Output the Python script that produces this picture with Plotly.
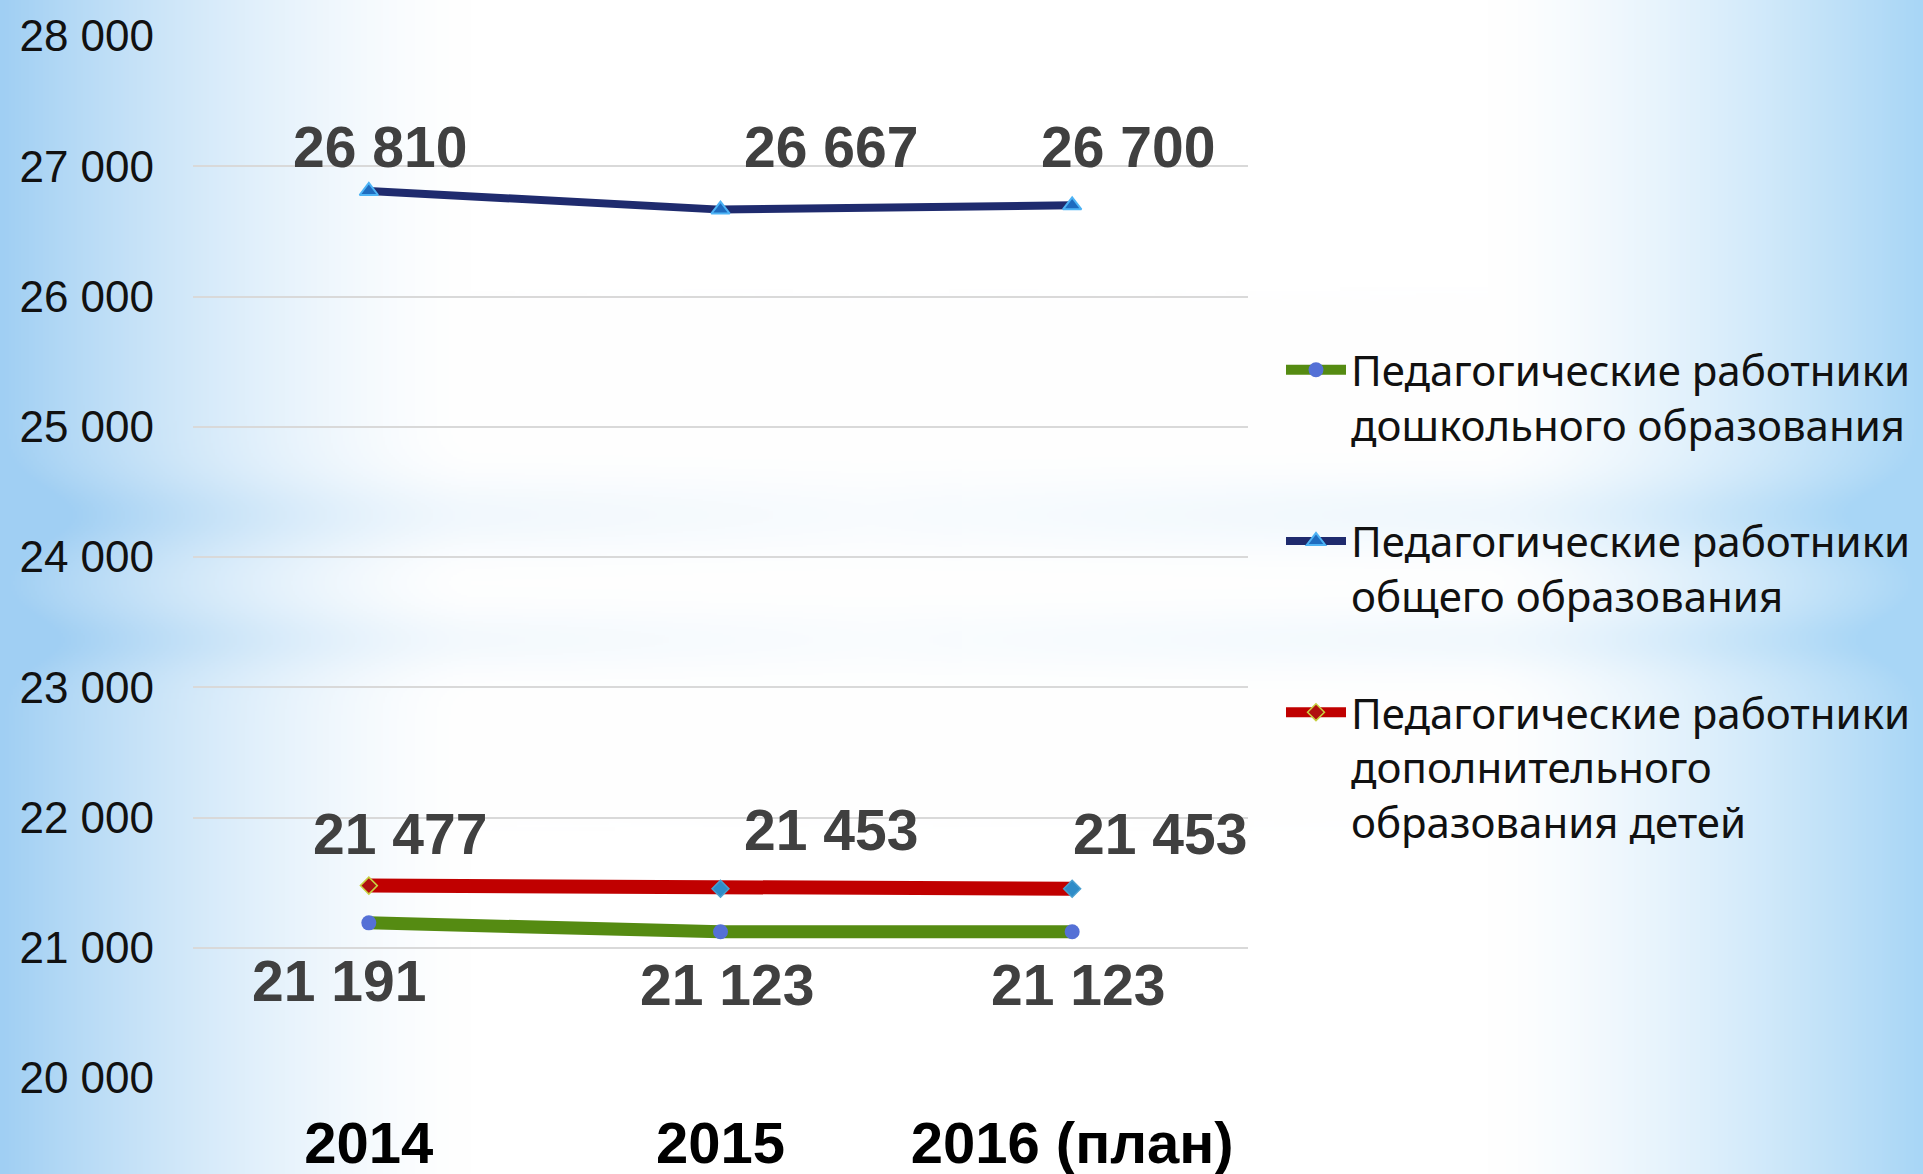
import base64, struct, zlib
import numpy as np
import plotly.graph_objects as go

# ---------------- data ----------------
categories = ["2014", "2015", "2016 (план)"]
preschool = [21191, 21123, 21123]
general = [26810, 26667, 26700]
additional = [21477, 21453, 21453]
series_names = [
    "Педагогические работники<br>дошкольного образования",
    "Педагогические работники<br>общего образования",
    "Педагогические работники<br>дополнительного<br>образования детей",
]
y_ticks = [20000, 21000, 22000, 23000, 24000, 25000, 26000, 27000, 28000]
y_ticktext = ["20 000", "21 000", "22 000", "23 000", "24 000", "25 000", "26 000", "27 000", "28 000"]

W, H = 1923, 1174
L, R, T, B = 193, 675, 36, 96
PW, PH = W - L - R, H - T - B


def fmt(v):
    return f"{v:,}".replace(",", " ")


# ---------------- background gradient image ----------------
def make_bg(w, h):
    xs = np.linspace(0, W, w)[None, :]
    ys = np.linspace(0, H, h)[:, None]
    hl = np.clip(1 - xs / 470.0, 0, 1) ** 1.5
    hr = np.clip((xs - 1490) / 433.0, 0, 1) ** 1.4
    mod = np.clip(0.3 + 0.7 * np.abs(xs - 870) / 870.0, 0, 1)
    band = (0.22 * np.exp(-((ys - 515) / 38.0) ** 2) + 0.18 * np.exp(-((ys - 640) / 32.0) ** 2)) * mod
    f = np.clip(hl + hr + band, 0, 1)
    blue_l = np.array([160, 207, 243], float)
    blue_r = np.array([168, 214, 246], float)
    blue = np.where(xs[..., None] < W / 2, blue_l, blue_r)
    img = 255 * (1 - f[..., None]) + blue * f[..., None]
    return np.clip(img, 0, 255).astype(np.uint8)


def png_bytes(arr):
    h, w, _ = arr.shape
    raw = b"".join(b"\x00" + arr[i].tobytes() for i in range(h))

    def chunk(t, d):
        c = struct.pack(">I", len(d)) + t + d
        return c + struct.pack(">I", zlib.crc32(t + d) & 0xFFFFFFFF)

    return (b"\x89PNG\r\n\x1a\n"
            + chunk(b"IHDR", struct.pack(">IIBBBBB", w, h, 8, 2, 0, 0, 0))
            + chunk(b"IDAT", zlib.compress(raw, 9))
            + chunk(b"IEND", b""))


bg = make_bg(962, 587)
bg_uri = "data:image/png;base64," + base64.b64encode(png_bytes(bg)).decode()

# ---------------- figure ----------------
fig = go.Figure()

fig.add_trace(go.Scatter(
    x=categories, y=preschool, name=series_names[0], mode="lines+markers",
    line=dict(color="#558B12", width=13),
    marker=dict(symbol="circle", size=15, color="#5470D6"),
    legendgroup="a",
))
fig.add_trace(go.Scatter(
    x=categories, y=general, name=series_names[1], mode="lines+markers",
    line=dict(color="#1F2B6E", width=8),
    marker=dict(symbol="triangle-up", size=16, color="#1E6CC0",
                line=dict(color="#4DB3F5", width=2)),
    legendgroup="b",
))
fig.add_trace(go.Scatter(
    x=categories, y=additional, name=series_names[2], mode="lines+markers",
    line=dict(color="#C00000", width=14),
    marker=dict(symbol="diamond", size=13, color=["#B01010", "#2E8CC8", "#2E8CC8"],
                line=dict(color=["#C8D040", "#4AA0D0", "#4AA0D0"], width=1.5)),
    legendgroup="c",
))

# data labels
label_font = dict(family="Liberation Sans, Arial, sans-serif", size=57, color="#404040")
label_specs = [
    (general, [(11, 44), (110, 63), (56, 58)]),
    (additional, [(31, 52), (110, 59), (88, 55)]),
    (preschool, [(-30, -58), (6, -53), (6, -53)]),
]
for vals, shifts in label_specs:
    for i, v in enumerate(vals):
        dx, dy = shifts[i]
        fig.add_annotation(
            x=i, y=v, xref="x", yref="y", text="<b>" + fmt(v) + "</b>",
            showarrow=False, xshift=dx, yshift=dy, font=label_font,
            xanchor="center", yanchor="middle",
        )

fig.add_layout_image(dict(
    source=bg_uri, xref="paper", yref="paper",
    x=-L / PW, y=1 + T / PH, sizex=W / PW, sizey=H / PH,
    xanchor="left", yanchor="top", sizing="stretch", layer="below",
))

fig.update_layout(
    width=W, height=H,
    margin=dict(l=L, r=R, t=T, b=B, pad=0, autoexpand=False),
    paper_bgcolor="white",
    plot_bgcolor="rgba(0,0,0,0)",
    showlegend=True,
    legend=dict(
        x=(1281 - L) / PW, xanchor="left",
        y=1 - (336 - T) / PH, yanchor="top",
        bgcolor="rgba(0,0,0,0)",
        font=dict(family="Noto Sans, DejaVu Sans, sans-serif", size=42, color="#111111"),
        tracegroupgap=59,
        traceorder="grouped",
        itemwidth=60,
        valign="top",
    ),
    xaxis=dict(
        type="category", range=[-0.5, 2.5], showgrid=False, zeroline=False,
        showline=False, ticks="", automargin=False,
        tickfont=dict(family="Liberation Sans, Arial, sans-serif", size=58, color="#000000", weight="bold"),
        ticklabelstandoff=26,
    ),
    yaxis=dict(
        range=[20000, 28000], tickvals=y_ticks, ticktext=y_ticktext,
        showgrid=True, gridcolor="#D9D9D9", gridwidth=2, zeroline=False,
        showline=False, ticks="", automargin=False,
        tickfont=dict(family="Liberation Sans, Arial, sans-serif", size=44, color="#111111"),
        ticklabelstandoff=38,
    ),
)

post = """
document.documentElement.style.margin = '0';
document.documentElement.style.padding = '0';
document.documentElement.style.overflow = 'hidden';
document.body.style.margin = '0';
document.body.style.padding = '0';
document.body.style.overflow = 'hidden';
"""

fig.write_html(
    "out.html",
    config={"displayModeBar": False, "responsive": False},
    post_script=post,
)
